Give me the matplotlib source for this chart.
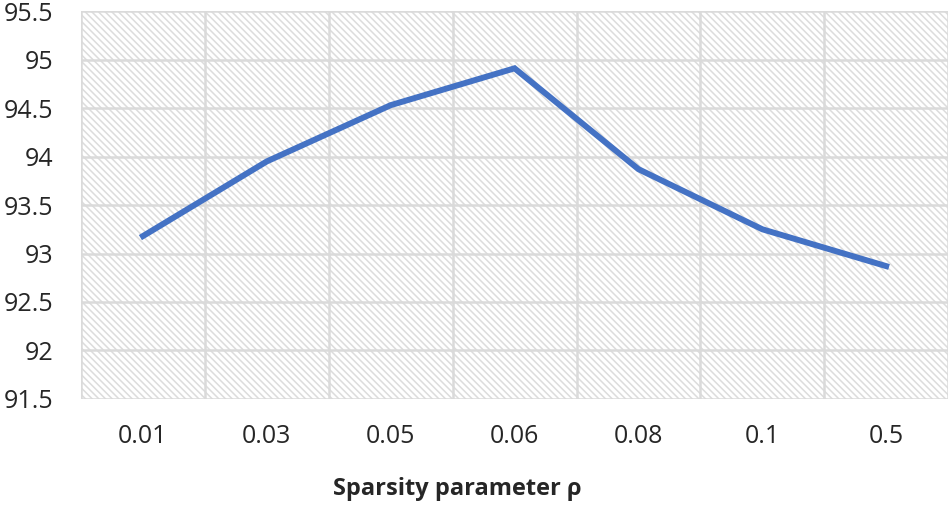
import matplotlib
matplotlib.use("Agg")
import matplotlib.pyplot as plt
from matplotlib.patches import Rectangle

categories = ["0.01", "0.03", "0.05", "0.06", "0.08", "0.1", "0.5"]
values = [93.18, 93.95, 94.53, 94.91, 93.87, 93.25, 92.87]
yticks = [91.5, 92, 92.5, 93, 93.5, 94, 94.5, 95, 95.5]
ytick_labels = ["91.5", "92", "92.5", "93", "93.5", "94", "94.5", "95", "95.5"]
xlabel = "Sparsity parameter ρ"

plt.rcParams['font.family'] = ['Open Sans', 'DejaVu Sans']
plt.rcParams['hatch.linewidth'] = 1.1

fig = plt.figure(figsize=(9.5, 5.05), dpi=100)
ax = fig.add_axes([0.0853, 0.21, 0.9127, 0.768])

x = list(range(len(categories)))
ax.set_xlim(-0.5, len(categories) - 0.5)
ax.set_ylim(91.5, 95.5)

bg = Rectangle((0, 0), 1, 1, transform=ax.transAxes, facecolor='white',
               edgecolor='#dcdcdc', hatch='\\\\\\\\\\', linewidth=0, zorder=0)
ax.add_patch(bg)

grid_color = '#dadada'
for yv in yticks:
    ax.axhline(yv, color=grid_color, linewidth=1.8, zorder=1)
for i in range(len(categories) + 1):
    ax.axvline(i - 0.5, color=grid_color, linewidth=1.8, zorder=1)

ax.plot(x, values, color='#4472C4', linewidth=4.3, solid_joinstyle='miter', zorder=3)

ax.set_xticks(x)
ax.set_xticklabels(categories)
ax.set_yticks(yticks)
ax.set_yticklabels(ytick_labels)
ax.tick_params(axis='both', length=0, labelsize=18, colors='#262626')
ax.tick_params(axis='y', pad=20)
ax.tick_params(axis='x', pad=18)
for s in ax.spines.values():
    s.set_visible(False)

fig.text(0.481, 0.02, xlabel, fontsize=17, fontweight='bold', color='#262626',
         ha='center', va='baseline')

fig.savefig("out.png", dpi=100)
